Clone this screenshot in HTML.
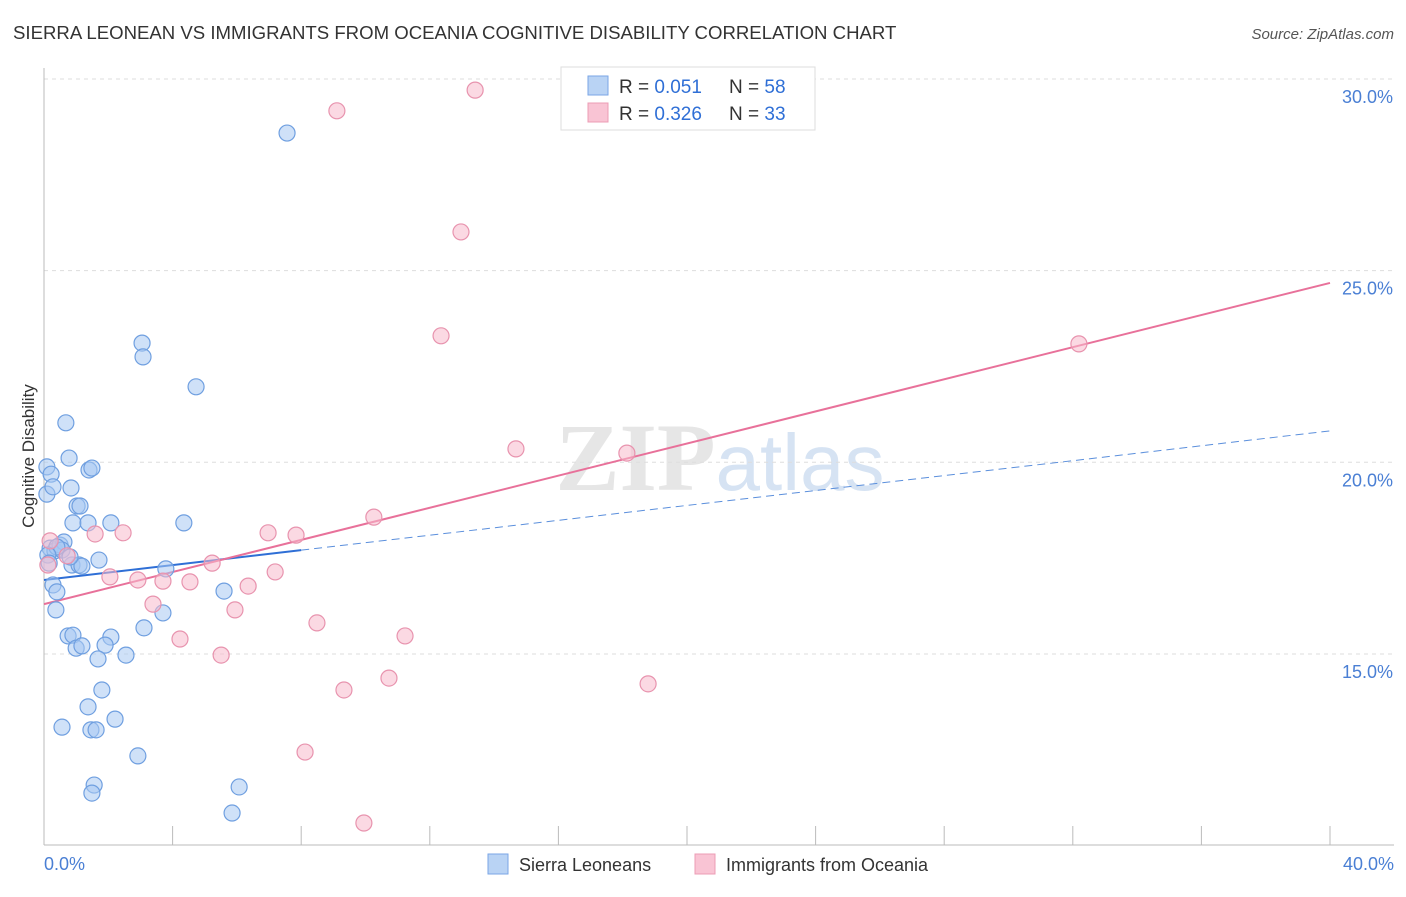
<!DOCTYPE html>
<html><head><meta charset="utf-8">
<style>
body{margin:0;background:#fff;font-family:"Liberation Sans",sans-serif;}
svg text{font-family:"Liberation Sans",sans-serif;}
</style></head>
<body>
<svg id="chart" width="1406" height="892" viewBox="0 0 1406 892" xmlns="http://www.w3.org/2000/svg">
<text x="13" y="39" font-size="18.6" fill="#333">SIERRA LEONEAN VS IMMIGRANTS FROM OCEANIA COGNITIVE DISABILITY CORRELATION CHART</text>
<text x="1394" y="39" font-size="15" fill="#555" text-anchor="end" font-style="italic">Source: ZipAtlas.com</text>
<text x="720" y="490" font-size="96" text-anchor="middle" fill="#e6e6e6"><tspan font-family="Liberation Serif" font-weight="bold">ZIP</tspan><tspan fill="#d6e3f3" font-size="80">atlas</tspan></text>
<g id="grid"></g>
<line x1="44" y1="845" x2="1394" y2="845" stroke="#bbb"/>
<line x1="44" y1="68" x2="44" y2="845" stroke="#bbb"/>
<text transform="translate(34,456) rotate(-90)" font-size="17" fill="#333" text-anchor="middle">Cognitive Disability</text>
<text x="44" y="870" font-size="18" fill="#4a7fd4">0.0%</text>
<text x="1394" y="870" font-size="18" fill="#4a7fd4" text-anchor="end">40.0%</text>
<g id="lines"></g>
<g id="points"></g>
<g>
<rect x="561" y="67" width="254" height="63" fill="#fff" stroke="#ddd"/>
<rect x="588" y="76" width="20" height="19" fill="#b9d3f4" stroke="#7aa6e6"/>
<rect x="588" y="103" width="20" height="19" fill="#f9c4d4" stroke="#ec9cb5"/>
<text x="619" y="93" font-size="19" fill="#333">R = <tspan fill="#2f6fd6">0.051</tspan></text>
<text x="729" y="93" font-size="19" fill="#333">N = <tspan fill="#2f6fd6">58</tspan></text>
<text x="619" y="120" font-size="19" fill="#333">R = <tspan fill="#2f6fd6">0.326</tspan></text>
<text x="729" y="120" font-size="19" fill="#333">N = <tspan fill="#2f6fd6">33</tspan></text>
</g>
<g>
<rect x="488" y="854" width="20" height="20" fill="#b9d3f4" stroke="#7aa6e6"/>
<text x="519" y="871" font-size="18" fill="#333">Sierra Leoneans</text>
<rect x="695" y="854" width="20" height="20" fill="#f9c4d4" stroke="#ec9cb5"/>
<text x="726" y="871" font-size="18" fill="#333">Immigrants from Oceania</text>
</g>
</svg>
<script>
const yTicks=[15,20,25,30];
const xTicks=[0,4,8,12,16,20,24,28,32,36,40];
const blueX=[7.56,3.05,3.08,4.73,0.68,0.78,1.40,1.49,0.09,0.22,0.09,0.28,0.84,1.03,1.12,0.90,1.37,2.08,4.35,0.19,0.34,0.50,0.62,0.56,0.40,1.71,0.87,1.09,1.18,3.79,0.28,0.40,5.60,0.37,3.70,3.11,0.75,0.90,2.08,1.00,1.18,1.90,2.55,1.68,1.80,1.37,2.21,0.56,1.46,1.62,2.92,1.56,1.49,6.07,5.85,0.12,0.16,0.81];
const blueY=[28.59,23.11,22.75,21.97,21.03,20.11,19.80,19.85,19.88,19.69,19.17,19.36,19.33,18.86,18.86,18.42,18.42,18.42,18.42,17.76,17.69,17.84,17.92,17.71,17.79,17.45,17.32,17.32,17.29,17.22,16.80,16.62,16.64,16.15,16.07,15.68,15.47,15.49,15.44,15.15,15.21,15.23,14.97,14.87,14.06,13.62,13.30,13.09,13.02,13.02,12.34,11.58,11.37,11.53,10.85,17.58,17.37,17.53];
const pinkX=[9.11,13.41,12.97,12.35,32.19,14.68,18.13,10.26,2.46,1.59,6.97,7.84,5.23,7.19,2.05,2.92,3.70,4.54,6.35,3.39,5.94,8.49,4.23,11.23,5.51,9.33,10.73,18.79,8.12,9.95,0.19,0.72,0.12];
const pinkY=[29.17,29.71,26.01,23.30,23.09,20.35,20.24,18.57,18.16,18.13,18.16,18.10,17.37,17.14,17.01,16.93,16.90,16.88,16.77,16.30,16.15,15.81,15.39,15.47,14.97,14.06,14.37,14.22,12.44,10.59,17.95,17.56,17.32];
const blueTrend=[16.93,20.82];
const pinkTrend=[16.30,24.68];
const blueSolidEnd=8;
const NS='http://www.w3.org/2000/svg';
const xs=v=>44+v*32.15;
const ys=v=>79+(30-v)*38.33;
function mk(tag,attrs,parent){const e=document.createElementNS(NS,tag);for(const k in attrs)e.setAttribute(k,attrs[k]);parent.appendChild(e);return e;}
const grid=document.getElementById('grid');
yTicks.forEach(t=>{
 const l=mk('line',{x1:44,x2:1394,y1:ys(t),y2:ys(t),stroke:'#ddd','stroke-dasharray':'4,4'},grid);
 
 
 const tx=mk('text',{x:1393,y:ys(t)+24,'font-size':18,fill:'#4a7fd4','text-anchor':'end'},grid);
 tx.textContent=t.toFixed(1)+'%';
 
 
});
xTicks.forEach(t=>{
 const l=mk('line',{x1:xs(t),x2:xs(t),y1:826,y2:845,stroke:'#bbb'},grid);
 
 
});
const pts=document.getElementById('points');
function dots(X,Y,fill,stroke,name){
 X.forEach((x,i)=>{
  const c=mk('circle',{cx:xs(x),cy:ys(Y[i]),r:8,fill:fill,'fill-opacity':0.55,stroke:stroke,'stroke-width':1.2},pts);
  
  
 });
}
dots(blueX,blueY,'#a8c8f2','#6f9fe0','sierra-point');
dots(pinkX,pinkY,'#f7b9cc','#e893ae','oceania-point');
const lg=document.getElementById('lines');
const bAt=x=>blueTrend[0]+(blueTrend[1]-blueTrend[0])*x/40;
let l1=mk('line',{x1:xs(0),y1:ys(bAt(0)),x2:xs(blueSolidEnd),y2:ys(bAt(blueSolidEnd)),stroke:'#2f6fd6','stroke-width':2},lg);


let l2=mk('line',{x1:xs(blueSolidEnd),y1:ys(bAt(blueSolidEnd)),x2:xs(40),y2:ys(bAt(40)),stroke:'#5b8fdc','stroke-width':1,'stroke-dasharray':'8,5'},lg);


let l3=mk('line',{x1:xs(0),y1:ys(pinkTrend[0]),x2:xs(40),y2:ys(pinkTrend[1]),stroke:'#e8719a','stroke-width':2},lg);


</script>
</body></html>
